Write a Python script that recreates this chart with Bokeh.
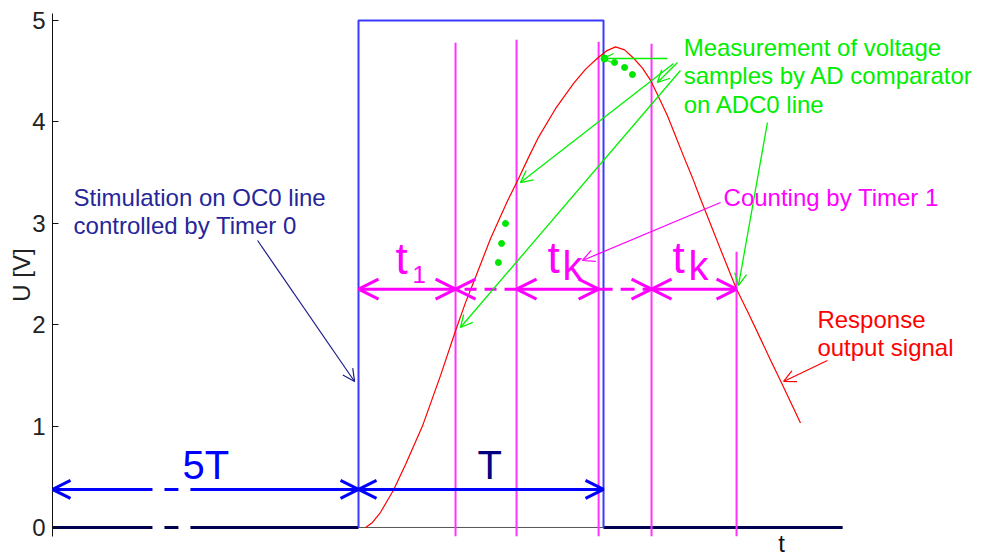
from bokeh.plotting import figure
from bokeh.models import Range1d, Arrow, OpenHead, Label, FixedTicker, CustomJSTickFormatter
from bokeh.embed import file_html
from bokeh.resources import INLINE

FONT = "Liberation Sans"

# time axis in units of the stimulation period T (pulse lasts from 0 to 1)
x_lo, x_hi = -1.249, 2.555
y_lo, y_hi = -0.089, 5.069
u_ticks = [0, 1, 2, 3, 4, 5]
t_title_pos = [1.727]   # where the "t" axis title sits
t_title = "t"

# stimulation pulse on OC0
pulse_t = [0, 0, 1, 1]
pulse_u = [0, 5, 5, 0]
# low level before (with a "5T" break) and after the pulse
base_left_t = [[-1.249, -0.841], [-0.792, -0.735], [-0.686, 0.0]]
base_right_t = [1.0, 1.976]

# response output signal
resp_t = [0.029, 0.057, 0.090, 0.143, 0.192, 0.261, 0.335, 0.396, 0.437, 0.478,
          0.539, 0.608, 0.653, 0.694, 0.735, 0.804, 0.878, 0.927, 0.976, 1.012,
          1.049, 1.086, 1.122, 1.159, 1.192, 1.224, 1.261, 1.294, 1.327, 1.363,
          1.396, 1.437, 1.478, 1.543, 1.592, 1.641, 1.682, 1.722, 1.763, 1.804]
resp_u = [0.00, 0.05, 0.15, 0.37, 0.62, 1.00, 1.50, 1.94, 2.22, 2.47,
          2.85, 3.22, 3.44, 3.65, 3.85, 4.13, 4.38, 4.52, 4.63, 4.70,
          4.74, 4.71, 4.63, 4.53, 4.41, 4.25, 4.06, 3.86, 3.66, 3.45,
          3.24, 2.99, 2.74, 2.35, 2.11, 1.86, 1.65, 1.45, 1.24, 1.03]

# sampling instants (Timer 1)
samp_t = [0.396, 0.645, 0.980, 1.196, 1.543]
samp_top = [4.78, 4.81, 4.79, 4.77, 2.72]

# "..." sample dots
dots_t = [1.045, 1.086, 1.118, 0.600, 0.584, 0.571]
dots_u = [4.586, 4.537, 4.467, 2.998, 2.801, 2.613]
big_dot_t = [1.004]
big_dot_u = [4.625]

u_arrow_T = 0.375
u_arrow_k = 2.35

p = figure(width=984, height=560, x_range=Range1d(x_lo, x_hi), y_range=Range1d(y_lo, y_hi),
           output_backend="svg", toolbar_location=None,
           min_border_left=52, min_border_right=0, min_border_top=13, min_border_bottom=24)
p.grid.visible = False
p.outline_line_color = None
p.background_fill_color = "white"

# x axis: only its title "t" (as the single tick label), under the right part
xa = p.xaxis[0]
xa.ticker = FixedTicker(ticks=t_title_pos)
xa.formatter = CustomJSTickFormatter(code="return '%s';" % t_title)
xa.axis_line_color = None
xa.major_tick_line_color = None
xa.minor_tick_line_color = None
xa.major_tick_out = 0
xa.major_tick_in = 0
xa.major_label_standoff = -7
xa.major_label_text_font = FONT
xa.major_label_text_font_size = "24px"
xa.major_label_text_color = "#111111"

ya = p.yaxis[0]
ya.ticker = FixedTicker(ticks=u_ticks)
ya.minor_tick_line_color = None
ya.major_tick_in = 6
ya.major_tick_out = 0
ya.major_label_standoff = 7
ya.major_label_text_font = FONT
ya.major_label_text_font_size = "24px"
ya.major_label_text_color = "#222222"
ya.axis_label = "U [V]"
ya.axis_label_text_font = FONT
ya.axis_label_text_font_size = "24px"
ya.axis_label_text_font_style = "normal"
ya.axis_label_text_color = "#222222"
ya.axis_label_standoff = -6
ya.axis_line_color = "#111111"
ya.major_tick_line_color = "#111111"

# thin axis line under the pulse
p.line([pulse_t[0], pulse_t[2]], [0, 0], line_color="#555555", line_width=1)
# low level of the stimulation
p.multi_line(xs=base_left_t + [base_right_t], ys=[[0, 0]] * (len(base_left_t) + 1),
             line_color="#000050", line_width=3)
# pulse
p.line(pulse_t, pulse_u, line_color="#3a3aff", line_width=2)
# sample instants
p.segment(x0=samp_t, y0=[y_lo] * len(samp_t), x1=samp_t, y1=samp_top,
          line_color="#ff33ff", line_width=2)
# response
p.line(resp_t, resp_u, line_color="#ff0000", line_width=1.2)
# dots
p.scatter(dots_t, dots_u, size=6, color="#00e600")
p.scatter(big_dot_t, big_dot_u, size=7, color="#00e600")


def arrow(x0, y0, x1, y1, color, width, size, start=False, end=True, dash="solid"):
    a = Arrow(x_start=x0, y_start=y0, x_end=x1, y_end=y1,
              line_color=color, line_width=width, line_dash=dash,
              start=OpenHead(size=size, line_color=color, line_width=width) if start else None,
              end=OpenHead(size=size, line_color=color, line_width=width) if end else None)
    p.add_layout(a)


def label(x, y, text, color, size="24px"):
    p.add_layout(Label(x=x, y=y, text=text, text_color=color, text_font=FONT,
                       text_font_size=size, text_align="left", text_baseline="middle"))


BLUE = "#0000ff"
MAG = "#ff00ff"
GREEN = "#00f000"

# 5T arrow with break
arrow(base_left_t[0][1], u_arrow_T, base_left_t[0][0], u_arrow_T, BLUE, 3, 18)
p.segment(x0=[base_left_t[1][0]], y0=[u_arrow_T], x1=[base_left_t[1][1]], y1=[u_arrow_T],
          line_color=BLUE, line_width=3)
arrow(base_left_t[2][0], u_arrow_T, base_left_t[2][1], u_arrow_T, BLUE, 3, 18)
# T arrow
arrow(pulse_t[0], u_arrow_T, pulse_t[2], u_arrow_T, BLUE, 3, 18, start=True)

# t1, tk arrows
arrow(0.0, u_arrow_k, samp_t[0], u_arrow_k, MAG, 3, 20, start=True)
arrow(samp_t[1], u_arrow_k, samp_t[0], u_arrow_k, MAG, 3, 20, dash="12 8")
arrow(samp_t[1], u_arrow_k, samp_t[2], u_arrow_k, MAG, 3, 20, start=True)
arrow(samp_t[2], u_arrow_k, samp_t[3], u_arrow_k, MAG, 3, 20, dash="14 8")
arrow(samp_t[3], u_arrow_k, samp_t[4], u_arrow_k, MAG, 3, 20, start=True)

# thin annotation arrows
arrow(1.261, 4.625, 1.0, 4.625, GREEN, 1.3, 10)
arrow(1.302, 4.586, 1.220, 4.389, GREEN, 1.3, 12)
arrow(1.286, 4.576, 0.661, 3.402, GREEN, 1.3, 12)
arrow(1.314, 4.507, 0.416, 1.972, GREEN, 1.3, 12)
arrow(1.669, 3.994, 1.551, 2.387, GREEN, 1.3, 12)
arrow(1.478, 3.205, 0.914, 2.633, MAG, 1.2, 12)
arrow(-0.412, 2.830, -0.016, 1.440, "#1a1a8c", 1.2, 12)
arrow(1.914, 1.647, 1.735, 1.440, "#ff0000", 1.2, 12)

# texts (anchored at their vertical middle)
label(-1.163, 3.258, "Stimulation on OC0 line", "#26269a")
label(-1.163, 2.982, "controlled by Timer 0", "#26269a")
label(1.327, 4.738, "Measurement of voltage", "#00ee00")
label(1.327, 4.462, "samples by AD comparator", "#00ee00")
label(1.327, 4.176, "on ADC0 line", "#00ee00")
label(1.490, 3.258, "Counting by Timer 1", MAG)
label(1.873, 2.055, "Response", "#ff0000")
label(1.873, 1.779, "output signal", "#ff0000")
label(-0.718, 0.621, "5T", BLUE, "40px")
label(0.486, 0.621, "T", "#000080", "40px")
label(0.151, 2.657, "t", MAG, "44px")
label(0.220, 2.499, "1", MAG, "24px")
label(0.771, 2.667, "t", MAG, "44px")
label(0.833, 2.574, "k", MAG, "40px")
label(1.282, 2.667, "t", MAG, "44px")
label(1.347, 2.574, "k", MAG, "40px")

open("out.html", "w").write(file_html(p, INLINE))
